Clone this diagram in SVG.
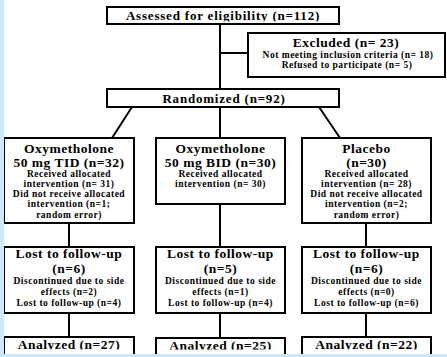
<svg xmlns="http://www.w3.org/2000/svg" width="447" height="357" viewBox="0 0 447 357">
<style>
.box{fill:#fff;stroke:#000;stroke-width:2}
.ln{stroke:#000;stroke-width:2;fill:none}
text{font-family:"Liberation Serif","Times New Roman",serif;font-weight:bold;fill:#000;text-anchor:middle}
.h{font-size:13px;letter-spacing:0.8px}
.t{font-size:13.5px;letter-spacing:0.5px}
.s{font-size:9.5px;letter-spacing:0.5px}
</style>
<defs>
<clipPath id="cTop"><rect x="0" y="0" width="447" height="21.5"/></clipPath>
<clipPath id="cBot"><rect x="0" y="0" width="447" height="349.5"/></clipPath>
</defs>
<rect x="0" y="0" width="447" height="357" fill="#fff"/>
<g id="connectors">
<line class="ln" x1="220" y1="24" x2="220" y2="89"/>
<line class="ln" x1="220" y1="53" x2="248" y2="53"/>
<line class="ln" x1="132" y1="107" x2="112" y2="138"/>
<line class="ln" x1="220" y1="107" x2="220" y2="138"/>
<line class="ln" x1="319" y1="107" x2="340" y2="138"/>
<line class="ln" x1="69" y1="223" x2="69" y2="247"/>
<line class="ln" x1="220" y1="204" x2="220" y2="247"/>
<line class="ln" x1="366" y1="223" x2="366" y2="247"/>
<line class="ln" x1="69" y1="313" x2="69" y2="337"/>
<line class="ln" x1="220" y1="313" x2="220" y2="338"/>
<line class="ln" x1="366" y1="313" x2="366" y2="337"/>
</g>
<g id="assessed">
<rect class="box" x="107" y="7" width="232" height="17"/>
<text class="h" x="223" y="20" clip-path="url(#cTop)">Assessed for eligibility (n=112)</text>
</g>
<g id="excluded">
<rect class="box" x="248" y="33" width="197" height="44"/>
<text class="t" x="346" y="47">Excluded (n= 23)</text>
<text class="s" x="348" y="58">Not meeting inclusion criteria (n= 18)</text>
<text class="s" x="347" y="68">Refused to participate (n= 5)</text>
</g>
<g id="randomized">
<rect class="box" x="107" y="89" width="232" height="18"/>
<text class="h" x="224" y="103">Randomized (n=92)</text>
</g>
<g id="arm1">
<rect class="box" x="4" y="138" width="130" height="85"/>
<text class="t" x="69" y="153">Oxymetholone</text>
<text class="t" x="69" y="167">50 mg TID (n=32)</text>
<text class="s" x="69" y="177">Received allocated</text>
<text class="s" x="69" y="187">intervention (n= 31)</text>
<text class="s" x="69" y="197">Did not receive allocated</text>
<text class="s" x="69" y="207">intervention (n=1;</text>
<text class="s" x="69" y="218">random error)</text>
</g>
<g id="arm2">
<rect class="box" x="156" y="138" width="129" height="66"/>
<text class="t" x="220.5" y="153">Oxymetholone</text>
<text class="t" x="220.5" y="167">50 mg BID (n=30)</text>
<text class="s" x="220.5" y="177">Received allocated</text>
<text class="s" x="220.5" y="187">intervention (n= 30)</text>
</g>
<g id="arm3">
<rect class="box" x="302" y="138" width="129" height="85"/>
<text class="t" x="366.5" y="153">Placebo</text>
<text class="t" x="366.5" y="167">(n=30)</text>
<text class="s" x="366.5" y="177">Received allocated</text>
<text class="s" x="366.5" y="187">intervention (n= 28)</text>
<text class="s" x="366.5" y="197">Did not receive allocated</text>
<text class="s" x="366.5" y="207">intervention (n=2;</text>
<text class="s" x="366.5" y="218">random error)</text>
</g>
<g id="lost1">
<rect class="box" x="4" y="247" width="130" height="66"/>
<text class="t" x="69" y="258">Lost to follow-up</text>
<text class="t" x="69" y="273">(n=6)</text>
<text class="s" x="69" y="284">Discontinued due to side</text>
<text class="s" x="69" y="295">effects (n=2)</text>
<text class="s" x="69" y="306">Lost to follow-up (n=4)</text>
</g>
<g id="lost2">
<rect class="box" x="156" y="247" width="129" height="66"/>
<text class="t" x="220.5" y="258">Lost to follow-up</text>
<text class="t" x="220.5" y="273">(n=5)</text>
<text class="s" x="220.5" y="284">Discontinued due to side</text>
<text class="s" x="220.5" y="295">effects (n=1)</text>
<text class="s" x="220.5" y="306">Lost to follow-up (n=4)</text>
</g>
<g id="lost3">
<rect class="box" x="302" y="247" width="129" height="66"/>
<text class="t" x="366.5" y="258">Lost to follow-up</text>
<text class="t" x="366.5" y="273">(n=6)</text>
<text class="s" x="366.5" y="284">Discontinued due to side</text>
<text class="s" x="366.5" y="295">effects (n=0)</text>
<text class="s" x="366.5" y="306">Lost to follow-up (n=6)</text>
</g>
<g id="analyzed1">
<rect class="box" x="4" y="337" width="130" height="30"/>
<text class="t" x="69" y="349" clip-path="url(#cBot)">Analyzed (n=27)</text>
</g>
<g id="analyzed2">
<rect class="box" x="156" y="338" width="129" height="30"/>
<text class="t" x="220.5" y="350" clip-path="url(#cBot)">Analyzed (n=25)</text>
</g>
<g id="analyzed3">
<rect class="box" x="302" y="337" width="129" height="30"/>
<text class="t" x="366.5" y="349" clip-path="url(#cBot)">Analyzed (n=22)</text>
</g>
<rect x="0" y="0" width="4" height="357" fill="#cce8fd"/>
<rect x="0" y="354" width="447" height="3" fill="#cce8fd"/>
</svg>
